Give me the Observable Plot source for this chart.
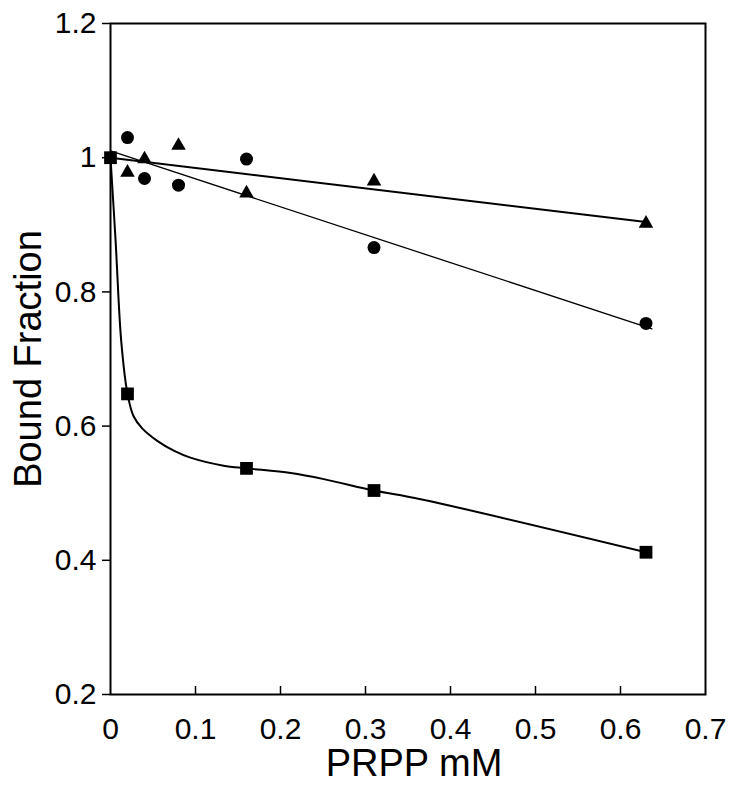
<!DOCTYPE html>
<html>
<head>
<meta charset="utf-8">
<script src="https://cdn.jsdelivr.net/npm/d3@7"></script>
<script src="https://cdn.jsdelivr.net/npm/@observablehq/plot@0.6"></script>
<style>
  html, body { margin: 0; padding: 0; background: #fff; }
  #chart { width: 734px; height: 792px; }
</style>
</head>
<body>
<div id="chart"></div>
<script>
// Squares (measured)
const squareX = [0, 0.02, 0.16, 0.31, 0.63];
const squareY = [1.0, 0.648, 0.537, 0.504, 0.412];
// Circles (measured)
const circleX = [0.02, 0.04, 0.08, 0.16, 0.31, 0.63];
const circleY = [1.03, 0.969, 0.959, 0.998, 0.866, 0.753];
// Triangles (measured)
const triangleX = [0.02, 0.04, 0.08, 0.16, 0.31, 0.63];
const triangleY = [0.978, 0.998, 1.018, 0.947, 0.965, 0.902];

// Fitted curve through squares
const squareFitX = [0, 0.006, 0.0126, 0.02, 0.027, 0.037, 0.055, 0.075, 0.094, 0.133, 0.16, 0.212, 0.251, 0.31, 0.365, 0.63];
const squareFitY = [1.0, 0.876, 0.727, 0.648, 0.615, 0.597, 0.578, 0.563, 0.553, 0.541, 0.537, 0.530, 0.521, 0.504, 0.491, 0.412];
// Fitted straight lines
const circleFitX = [0, 0.637];
const circleFitY = [1.01, 0.745];
const triangleFitX = [0, 0.63];
const triangleFitY = [1.0, 0.904];

// Axes
const xTicks = [0, 0.1, 0.2, 0.3, 0.4, 0.5, 0.6, 0.7];
const xTickLabels = ["0", "0.1", "0.2", "0.3", "0.4", "0.5", "0.6", "0.7"];
const xInnerTicks = [0.1, 0.2, 0.3, 0.4, 0.5, 0.6];
const yTicks = [0.2, 0.4, 0.6, 0.8, 1.0, 1.2];
const yTickLabels = ["0.2", "0.4", "0.6", "0.8", "1", "1.2"];
const xTitle = "PRPP mM";
const yTitle = "Bound Fraction";

const zip = (xs, ys) => xs.map((x, i) => ({x, y: ys[i]}));

const chart = Plot.plot({
  width: 734,
  height: 792,
  marginLeft: 110,
  marginRight: 29,
  marginTop: 23,
  marginBottom: 98,
  x: {domain: [0, 0.7]},
  y: {domain: [0.2, 1.2]},
  style: {fontFamily: "'Liberation Sans', Arial, sans-serif", background: "#fff", color: "#000"},
  marks: [
    Plot.frame({stroke: "#000", strokeWidth: 2}),
    Plot.axisX(xTicks, {tickSize: 0, tickPadding: 23, fontSize: 30, label: null,
      tickFormat: d => xTickLabels[xTicks.indexOf(d)]}),
    Plot.axisX(xInnerTicks, {tickSize: -8, tickFormat: () => "", label: null, strokeWidth: 1.5}),
    Plot.axisY(yTicks, {tickSize: 8, tickPadding: 6, fontSize: 30, label: null, strokeWidth: 1.5,
      tickFormat: d => yTickLabels[yTicks.indexOf(d)]}),
    Plot.text([xTitle], {frameAnchor: "bottom", dy: 81, dx: 6, lineAnchor: "bottom", fontSize: 38, fill: "#000"}),
    Plot.text([yTitle], {frameAnchor: "left", dx: -82, rotate: -90, textAnchor: "middle", fontSize: 38, fill: "#000"}),
    Plot.line(zip(squareFitX, squareFitY), {x: "x", y: "y", stroke: "#000", strokeWidth: 2, curve: "catmull-rom"}),
    Plot.line(zip(triangleFitX, triangleFitY), {x: "x", y: "y", stroke: "#000", strokeWidth: 2}),
    Plot.line(zip(circleFitX, circleFitY), {x: "x", y: "y", stroke: "#000", strokeWidth: 1.3}),
    Plot.dot(zip(circleX, circleY), {x: "x", y: "y", symbol: "circle", r: 6.5, fill: "#000"}),
    Plot.dot(zip(triangleX, triangleY), {x: "x", y: "y", symbol: "triangle", r: 5.4, fill: "#000"}),
    Plot.dot(zip(squareX, squareY), {x: "x", y: "y", symbol: "square", r: 7.2, fill: "#000"})
  ]
});
document.getElementById("chart").appendChild(chart);
</script>
</body>
</html>
